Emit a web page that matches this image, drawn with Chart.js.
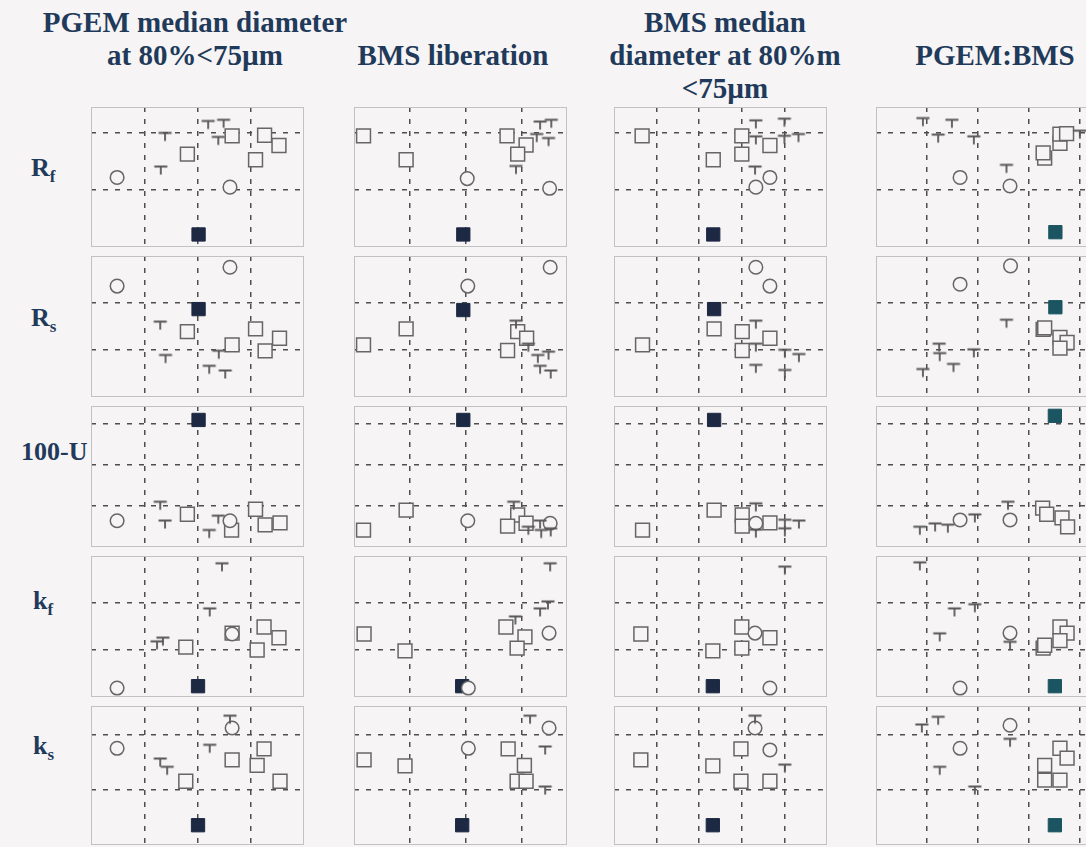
<!DOCTYPE html>
<html>
<head>
<meta charset="utf-8">
<script src="https://cdn.jsdelivr.net/npm/chart.js@4/dist/chart.umd.min.js"></script>
<style>
  html, body { margin: 0; padding: 0; background: #f6f4f4; width: 1086px; height: 847px; overflow: hidden; }
  .title { position: absolute; font-family: "Liberation Serif", "Times New Roman", serif; font-weight: bold;
           color: #1f3a5a; font-size: 29px; line-height: 33px; text-align: center; white-space: nowrap;
           transform: translateX(-50%); }
  .row { position: absolute; font-family: "Liberation Serif", "Times New Roman", serif; font-weight: bold;
         color: #1f3a5a; font-size: 26px; line-height: 30px; white-space: nowrap; }
  .row sub { font-size: 17px; vertical-align: -6px; }
  canvas.panel { position: absolute; }
</style>
</head>
<body>
<script>
// Column headings (one line per entry) and row labels
const columnTitles = [
  ['PGEM median diameter', 'at 80%<75µm'],
  ['BMS liberation'],
  ['BMS median', 'diameter at 80%m', '<75µm'],
  ['PGEM:BMS']
];
const rowLabels = [['R', 'f'], ['R', 's'], ['100-U', ''], ['k', 'f'], ['k', 's']];

// Marker positions, one list per column: PGEM size, BMS liberation, BMS size, PGEM:BMS
const rfSquares = [
  [[2.65,1.95],[3.26,1.96],[3.53,1.78],[1.81,1.63],[3.09,1.53]],
  [[0.17,1.95],[0.93,1.53],[2.73,1.95],[3.07,1.79],[2.92,1.63]],
  [[0.66,1.95],[2.33,1.53],[3.0,1.95],[3.0,1.63],[3.66,1.78]],
  [[3.31,1.56],[3.28,1.65],[3.61,1.82],[3.61,1.98],[3.74,1.99]]
];
const rfCircles = [
  [[0.49,1.22],[2.61,1.05]],
  [[2.02,1.2],[3.49,1.03]],
  [[3.66,1.22],[3.33,1.05]],
  [[1.65,1.22],[2.63,1.07]]
];
const rfTees = [
  [[2.2,2.15],[2.49,2.17],[1.39,1.94],[2.39,1.87],[1.31,1.35]],
  [[3.32,2.14],[3.52,2.17],[3.26,1.92],[3.47,1.85],[2.89,1.36]],
  [[3.33,2.16],[4.0,2.19],[3.33,1.88],[4.33,1.92],[4.0,1.89],[3.31,1.35]],
  [[0.92,2.2],[1.49,2.17],[1.22,1.91],[1.92,1.88],[2.56,1.38],[4.0,1.98]]
];
const rfSolid = [[[2.02,0.22]], [[1.95,0.22]], [[2.33,0.22]], [[3.52,0.26]]];

const rsSquares = [
  [[1.81,1.39],[2.65,1.11],[3.09,1.45],[3.54,1.25],[3.27,0.98]],
  [[0.93,1.45],[0.17,1.11],[2.92,1.39],[3.08,1.25],[2.74,0.99]],
  [[2.35,1.45],[3.01,1.39],[3.66,1.25],[3.01,0.99],[0.67,1.11]],
  [[3.28,1.44],[3.31,1.47],[3.61,1.27],[3.75,1.16],[3.61,1.04]]
];
const rsCircles = [
  [[0.49,2.36],[2.61,2.76]],
  [[2.03,2.36],[3.5,2.76]],
  [[3.33,2.76],[3.66,2.36]],
  [[2.64,2.79],[1.65,2.4]]
];
const rsTees = [
  [[1.3,1.53],[1.4,0.82],[2.4,0.91],[2.22,0.59],[2.52,0.49]],
  [[2.89,1.55],[3.11,1.06],[3.28,0.82],[3.47,0.89],[3.32,0.59],[3.51,0.49]],
  [[3.33,1.55],[3.33,1.06],[4.01,0.93],[4.34,0.84],[3.33,0.61],[4.01,0.5]],
  [[2.56,1.57],[1.24,1.06],[1.25,0.86],[1.92,0.94],[1.52,0.63],[0.92,0.52]]
];
const rsSolid = [[[2.02,1.87]], [[1.95,1.85]], [[2.35,1.87]], [[3.52,1.91]]];

const uSquares = [
  [[1.81,0.8],[2.64,0.41],[3.09,0.92],[3.27,0.54],[3.55,0.59]],
  [[0.17,0.41],[0.93,0.9],[2.92,0.78],[2.74,0.51],[3.07,0.58]],
  [[0.67,0.41],[2.35,0.9],[3.01,0.78],[3.01,0.51],[3.66,0.59]],
  [[3.27,0.95],[3.35,0.8],[3.65,0.71],[3.76,0.49]]
];
const uCircles = [
  [[0.49,0.64],[2.61,0.64]],
  [[2.03,0.64],[3.5,0.58]],
  [[3.33,0.58]],
  [[1.65,0.66],[2.63,0.66]]
];
const uTees = [
  [[1.3,1.02],[1.39,0.56],[2.22,0.33],[2.39,0.68]],
  [[2.85,1.02],[3.32,0.56],[3.34,0.33],[3.51,0.37],[3.11,0.41]],
  [[3.33,0.98],[4.01,0.58],[4.34,0.56],[4.01,0.37],[3.33,0.34]],
  [[0.86,0.41],[1.16,0.49],[1.41,0.46],[1.94,0.71],[2.59,1.02]]
];
const uSolid = [[[2.02,3.1]], [[1.95,3.1]], [[2.35,3.1]], [[3.51,3.2]]];

const kfSquares = [
  [[1.78,1.06],[2.65,1.36],[3.25,1.49],[3.53,1.26],[3.12,1.0]],
  [[0.18,1.34],[0.91,0.98],[2.71,1.49],[3.05,1.28],[2.91,1.04]],
  [[0.63,1.34],[2.32,0.98],[3.0,1.49],[3.66,1.26],[3.0,1.04]],
  [[3.28,1.04],[3.31,1.1],[3.61,1.49],[3.75,1.36],[3.61,1.2]]
];
const kfCircles = [
  [[2.65,1.34],[0.49,0.19]],
  [[3.48,1.36],[2.04,0.19]],
  [[3.31,1.36],[3.66,0.19]],
  [[2.63,1.36],[1.65,0.19]]
];
const kfTees = [
  [[2.46,2.77],[2.23,1.81],[1.24,1.11],[1.35,1.19]],
  [[3.5,2.77],[3.46,1.96],[3.32,1.81],[2.88,1.64]],
  [[4.01,2.7]],
  [[0.86,2.79],[1.54,1.81],[1.94,1.9],[1.25,1.28],[2.63,1.1]]
];
const kfSolid = [[[2.01,0.23]], [[1.93,0.23]], [[2.32,0.23]], [[3.51,0.23]]];

const ksSquares = [
  [[1.78,1.16],[2.65,1.55],[3.25,1.75],[3.12,1.45],[3.55,1.16]],
  [[0.18,1.55],[0.91,1.44],[2.75,1.75],[3.04,1.45],[2.91,1.16],[3.07,1.16]],
  [[0.63,1.55],[2.32,1.44],[2.98,1.75],[2.98,1.16],[3.66,1.16]],
  [[3.61,1.76],[3.75,1.58],[3.31,1.45],[3.31,1.18],[3.61,1.18]]
];
const ksCircles = [
  [[2.65,2.13],[0.49,1.76]],
  [[3.48,2.13],[2.04,1.76]],
  [[3.31,2.13],[3.66,1.73]],
  [[2.63,2.18],[1.65,1.76]]
];
const ksTees = [
  [[2.61,2.29],[2.23,1.76],[1.3,1.51],[1.43,1.36]],
  [[3.14,2.29],[3.41,1.73],[3.41,1.0]],
  [[3.31,2.29],[4.01,1.4]],
  [[1.22,2.27],[0.9,2.13],[1.25,1.36],[1.94,1.0],[2.63,1.87]]
];
const ksSolid = [[[2.01,0.36]], [[1.93,0.36]], [[2.32,0.36]], [[3.51,0.36]]];

const rows = [
  { squares: rfSquares, circles: rfCircles, tees: rfTees, solid: rfSolid },
  { squares: rsSquares, circles: rsCircles, tees: rsTees, solid: rsSolid },
  { squares: uSquares,  circles: uCircles,  tees: uTees,  solid: uSolid },
  { squares: kfSquares, circles: kfCircles, tees: kfTees, solid: kfSolid },
  { squares: ksSquares, circles: ksCircles, tees: ksTees, solid: ksSolid }
];

// Panel geometry
const colLeft = [91, 354, 614, 876];
const colWidth = 213;
const colMax = [4, 3.8, 5, 4.18];
const colGrid = [[1,2,3], [1,2,3], [1,2,3,4], [1,2,3,4]];
const rowTop = [107, 256, 406, 556, 706];
const rowHeight = [140, 141, 141, 141, 139];
const rowMax = [2.456, 3, 3.44, 3, 2.53];
const rowGrid = [[1,2], [1,2], [1,2,3], [1,2], [1,2]];

const PAD = 12;
const BG = '#f6f4f4';
const MARK = '#666';
const SOLID = ['#1d2943', '#1d2943', '#1d2943', '#1b5561'];

// Heading and row label text
const titleLeft = [195, 453, 725, 995];
const titleTop = [6, 39, 6, 39];
columnTitles.forEach((lines, i) => {
  const d = document.createElement('div');
  d.className = 'title';
  d.style.left = titleLeft[i] + 'px';
  d.style.top = titleTop[i] + 'px';
  d.innerHTML = lines.map(s => s.replace(/</g, '&lt;')).join('<br>');
  document.body.appendChild(d);
});
const labelLeft = [31, 31, 21, 33, 33];
const labelMid = [168, 318, 452, 601, 746];
rowLabels.forEach((lab, i) => {
  const d = document.createElement('div');
  d.className = 'row';
  d.style.left = labelLeft[i] + 'px';
  d.style.top = (labelMid[i] - 15) + 'px';
  d.innerHTML = lab[0] + (lab[1] ? '<sub>' + lab[1] + '</sub>' : '');
  document.body.appendChild(d);
});

// "T" shaped marker
function teeMarker() {
  const c = document.createElement('canvas');
  c.width = 16; c.height = 16;
  const g = c.getContext('2d');
  g.strokeStyle = '#575757';
  g.lineWidth = 1.8;
  g.beginPath();
  g.moveTo(1.5, 4.5); g.lineTo(14.5, 4.5);
  g.moveTo(8, 4.5); g.lineTo(8, 12.5);
  g.stroke();
  return c;
}
const tee = teeMarker();

// Light frame round each plot area
const frame = {
  id: 'frame',
  beforeDatasetsDraw(chart) {
    const { ctx, chartArea: a } = chart;
    ctx.save();
    ctx.strokeStyle = '#c2c2c2';
    ctx.lineWidth = 1;
    ctx.strokeRect(Math.round(a.left) + 0.5, Math.round(a.top) + 0.5, Math.round(a.width) - 1, Math.round(a.height) - 1);
    ctx.restore();
  }
};

function axis(max, grid) {
  return {
    type: 'linear', min: 0, max: max,
    grid: { color: '#4e4e4e', lineWidth: 1.5, drawTicks: false },
    border: { display: false, dash: [5, 7] },
    ticks: { display: false },
    afterBuildTicks: s => { s.ticks = grid.map(v => ({ value: v })); }
  };
}
const pts = arr => arr.map(p => ({ x: p[0], y: p[1] }));

rows.forEach((row, r) => {
  for (let c = 0; c < 4; c++) {
    const cv = document.createElement('canvas');
    cv.className = 'panel';
    const w = colWidth + 2 * PAD, h = rowHeight[r] + 2 * PAD;
    cv.width = w; cv.height = h;
    cv.style.left = (colLeft[c] - PAD) + 'px';
    cv.style.top = (rowTop[r] - PAD) + 'px';
    cv.style.width = w + 'px'; cv.style.height = h + 'px';
    document.body.appendChild(cv);
    new Chart(cv, {
      type: 'scatter',
      data: {
        datasets: [
          { data: pts(row.tees[c]), pointStyle: tee, pointRadius: 8, clip: false },
          { data: pts(row.circles[c]), pointStyle: 'circle', pointRadius: 6.8, borderWidth: 1.5,
            borderColor: MARK, backgroundColor: BG, clip: false },
          { data: pts(row.squares[c]), pointStyle: 'rect', pointRadius: 9.8, borderWidth: 1.5,
            borderColor: MARK, backgroundColor: BG, clip: false },
          { data: pts(row.solid[c]), pointStyle: 'rect', pointRadius: 9.4, borderWidth: 1,
            borderColor: SOLID[c], backgroundColor: SOLID[c], clip: false }
        ]
      },
      options: {
        responsive: false, animation: false, devicePixelRatio: 1, events: [],
        layout: { padding: PAD },
        plugins: { legend: { display: false }, tooltip: { enabled: false } },
        scales: { x: axis(colMax[c], colGrid[c]), y: axis(rowMax[r], rowGrid[r]) }
      },
      plugins: [frame]
    });
  }
});
</script>
</body>
</html>
